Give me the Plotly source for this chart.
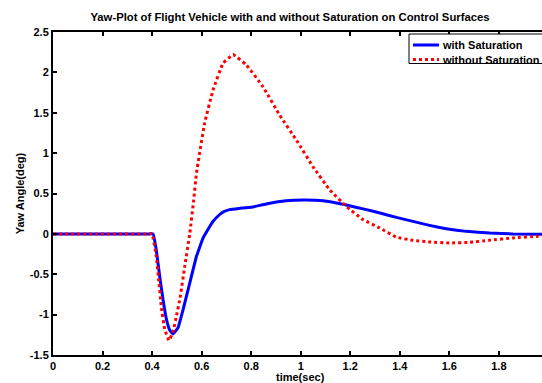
import plotly.graph_objects as go

# Yaw response of the flight vehicle, with saturation on the control surfaces
time_sat = [0.0, 0.2, 0.39, 0.404, 0.417, 0.431, 0.444, 0.458, 0.471, 0.484, 0.505, 0.525,
            0.552, 0.579, 0.606, 0.619, 0.646, 0.673, 0.686, 0.713, 0.75, 0.80,
            0.86, 0.94, 1.02, 1.09, 1.18, 1.265, 1.32, 1.386, 1.453, 1.52,
            1.588, 1.669, 1.764, 1.857, 2.0]
yaw_sat = [0.0, 0.0, 0.0, 0.0, -0.20, -0.53, -0.81, -1.06, -1.19, -1.24, -1.16, -0.94,
           -0.61, -0.28, -0.05, 0.02, 0.155, 0.24, 0.27, 0.30, 0.315, 0.33,
           0.37, 0.41, 0.42, 0.41, 0.36, 0.30, 0.258, 0.204, 0.155, 0.105,
           0.064, 0.031, 0.011, 0.0, -0.005]

# Yaw response without saturation
time_nosat = [0.0, 0.2, 0.39, 0.40, 0.417, 0.428, 0.437, 0.451, 0.468, 0.484, 0.498, 0.512,
              0.532, 0.552, 0.568, 0.579, 0.612, 0.646, 0.686, 0.727, 0.781, 0.848,
              0.915, 0.983, 1.05, 1.117, 1.184, 1.252, 1.319, 1.386, 1.453, 1.52,
              1.60, 1.68, 1.76, 1.857, 1.96, 2.0]
yaw_nosat = [0.0, 0.0, 0.0, 0.0, -0.28, -0.61, -0.90, -1.18, -1.32, -1.22, -1.02, -0.81,
             -0.40, 0.0, 0.42, 0.75, 1.37, 1.78, 2.11, 2.22, 2.09, 1.82,
             1.47, 1.16, 0.83, 0.546, 0.34, 0.176, 0.073, -0.04, -0.08, -0.10,
             -0.113, -0.105, -0.08, -0.05, -0.03, -0.025]

series_names = ["with Saturation", "without Saturation"]
series_colors = ["#0000ff", "#ff0000"]
series_dash = ["solid", "dot"]

x_ticks = [0, 0.2, 0.4, 0.6, 0.8, 1.0, 1.2, 1.4, 1.6, 1.8, 2.0]
x_tick_text = ["0", "0.2", "0.4", "0.6", "0.8", "1", "1.2", "1.4", "1.6", "1.8", "2"]
y_ticks = [-1.5, -1, -0.5, 0, 0.5, 1, 1.5, 2, 2.5]
y_tick_text = ["-1.5", "-1", "-0.5", "0", "0.5", "1", "1.5", "2", "2.5"]

FONT = "Liberation Sans, Arial, Helvetica, sans-serif"
W, H = 542, 383
ML, MT, MB = 53, 32, 28
PLOT_H = H - MT - MB
PLOT_W = W - ML


def px(xp):
    """pixel column -> paper x"""
    return (xp - ML) / PLOT_W


def py(yp):
    """pixel row -> paper y"""
    return (H - MB - yp) / PLOT_H


fig = go.Figure()
for xs, ys, name, color, dash in zip([time_sat, time_nosat], [yaw_sat, yaw_nosat],
                                     series_names, series_colors, series_dash):
    fig.add_trace(go.Scatter(
        x=xs, y=ys, mode="lines", name=name, showlegend=False,
        line=dict(color=color, width=3, dash=dash, shape="spline", smoothing=0.3),
    ))

axis_common = dict(
    showline=True, linecolor="black", linewidth=2,
    ticks="inside", ticklen=4, tickwidth=2, tickcolor="black",
    showgrid=False, zeroline=False,
    tickfont=dict(family=FONT, size=11, color="black", weight="bold"),
)
bold = dict(family=FONT, size=11, color="black", weight="bold")

fig.update_layout(
    width=W, height=H,
    margin=dict(l=ML, r=0, t=MT, b=MB, pad=0),
    paper_bgcolor="white", plot_bgcolor="white",
    title=dict(
        text="Yaw-Plot of Flight Vehicle with and without Saturation on Control Surfaces",
        font=dict(family=FONT, size=11.3, color="black", weight="bold"),
        xref="container", x=290 / W, xanchor="center",
        yref="container", y=1 - 17 / H, yanchor="middle",
    ),
    xaxis=dict(
        range=[0, (W - ML) / 247.7],
        tickvals=x_ticks, ticktext=x_tick_text,
        mirror="ticks",
        **axis_common,
    ),
    yaxis=dict(
        range=[-1.5, 2.5],
        tickvals=y_ticks, ticktext=y_tick_text,
        title=dict(text="Yaw Angle(deg)", standoff=3, font=bold),
        **axis_common,
    ),
    showlegend=False,
)

# x-axis label
fig.add_annotation(
    text="time(sec)", x=1.0, xref="x", y=0, yref="paper",
    yshift=-22, showarrow=False, yanchor="middle", font=bold,
)

# legend box, sample lines and entries
fig.add_shape(type="rect", xref="paper", yref="paper",
              x0=px(409), x1=px(600), y0=py(63.5), y1=py(34),
              line=dict(color="black", width=1), fillcolor="white", layer="above")
for i, (name, color, dash) in enumerate(zip(series_names, series_colors, series_dash)):
    row = 45 + 14.5 * i
    fig.add_shape(type="line", xref="paper", yref="paper",
                  x0=px(413), x1=px(439), y0=py(row), y1=py(row),
                  line=dict(color=color, width=3, dash=dash), layer="above")
    fig.add_annotation(text=name, xref="paper", yref="paper",
                       x=px(440), y=py(row), xanchor="left", yanchor="middle",
                       showarrow=False, font=bold)

fig.write_html("out.html")
